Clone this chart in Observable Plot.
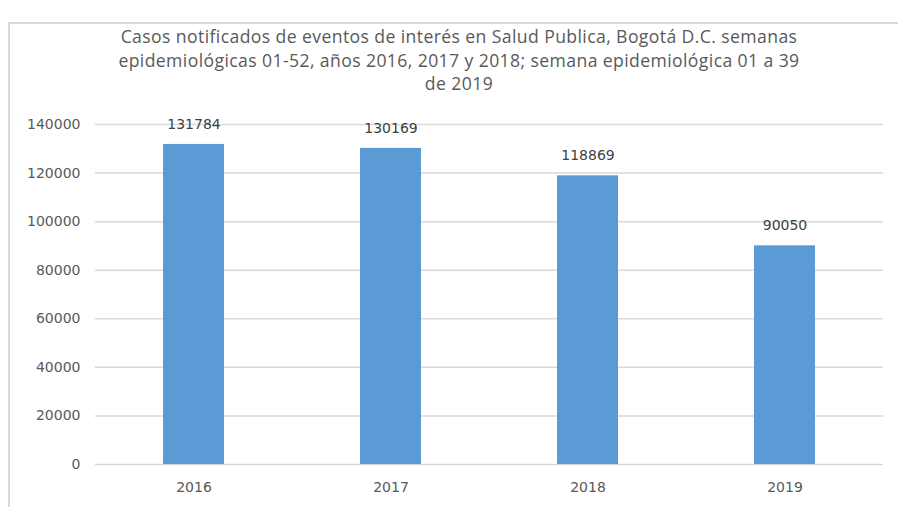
<!DOCTYPE html>
<html>
<head>
<meta charset="utf-8">
<script src="https://cdn.jsdelivr.net/npm/d3@7"></script>
<script src="https://cdn.jsdelivr.net/npm/@observablehq/plot@0.6"></script>
<style>
  html, body { margin: 0; padding: 0; background: #fff; }
  #wrap { position: relative; width: 898px; height: 507px; overflow: hidden; background: #fff; }
  #frame { position: absolute; left: 8px; top: 22px; width: 920px; height: 520px;
           border-left: 2px solid #d9d9d9; border-top: 2px solid #d9d9d9; box-sizing: border-box; }
  #title { position: absolute; left: 9px; width: 900px; top: 25px; text-align: center;
           font-family: "Open Sans", "Liberation Sans", sans-serif; font-size: 17.6px;
           letter-spacing: 0.4px; line-height: 23.5px; color: #595959; white-space: nowrap; }
  #chart { position: absolute; left: 0; top: 100px; }
</style>
</head>
<body>
<div id="wrap">
  <div id="frame"></div>
  <div id="title">Casos notificados de eventos de interés en Salud Publica, Bogotá D.C. semanas<br>epidemiológicas 01-52, años 2016, 2017 y 2018; semana epidemiológica 01 a 39<br>de 2019</div>
  <div id="chart"></div>
</div>
<script>
const years = ["2016", "2017", "2018", "2019"];
const cases = [131784, 130169, 118869, 90050];
const yTicks = [0, 20000, 40000, 60000, 80000, 100000, 120000, 140000];

const data = years.map((year, i) => ({year, cases: cases[i]}));
const font = "DejaVu Sans, sans-serif";

const plot = Plot.plot({
  width: 898,
  height: 407,
  marginLeft: 95,
  marginRight: 15,
  marginTop: 24,
  marginBottom: 43,
  style: {fontFamily: font, fontSize: "14px", color: "#595959", background: "transparent"},
  x: {domain: years, paddingInner: 0.69, paddingOuter: 0.345, label: null},
  y: {domain: [0, 140000], label: null},
  marks: [
    Plot.gridY(yTicks, {stroke: "#d9d9d9", strokeOpacity: 1, strokeWidth: 1.5}),
    Plot.barY(data, {x: "year", y: "cases", fill: "#5b9bd5"}),
    Plot.text(data, {x: "year", y: "cases", text: d => String(d.cases), dy: -20, fill: "#404040", fontSize: 14}),
    Plot.axisX({tickSize: 0, tickPadding: 18, fill: "#595959", fontSize: 14}),
    Plot.axisY(yTicks, {tickSize: 0, tickPadding: 15, tickFormat: d => String(d), fill: "#595959", fontSize: 14})
  ]
});
document.getElementById("chart").appendChild(plot);
</script>
</body>
</html>
